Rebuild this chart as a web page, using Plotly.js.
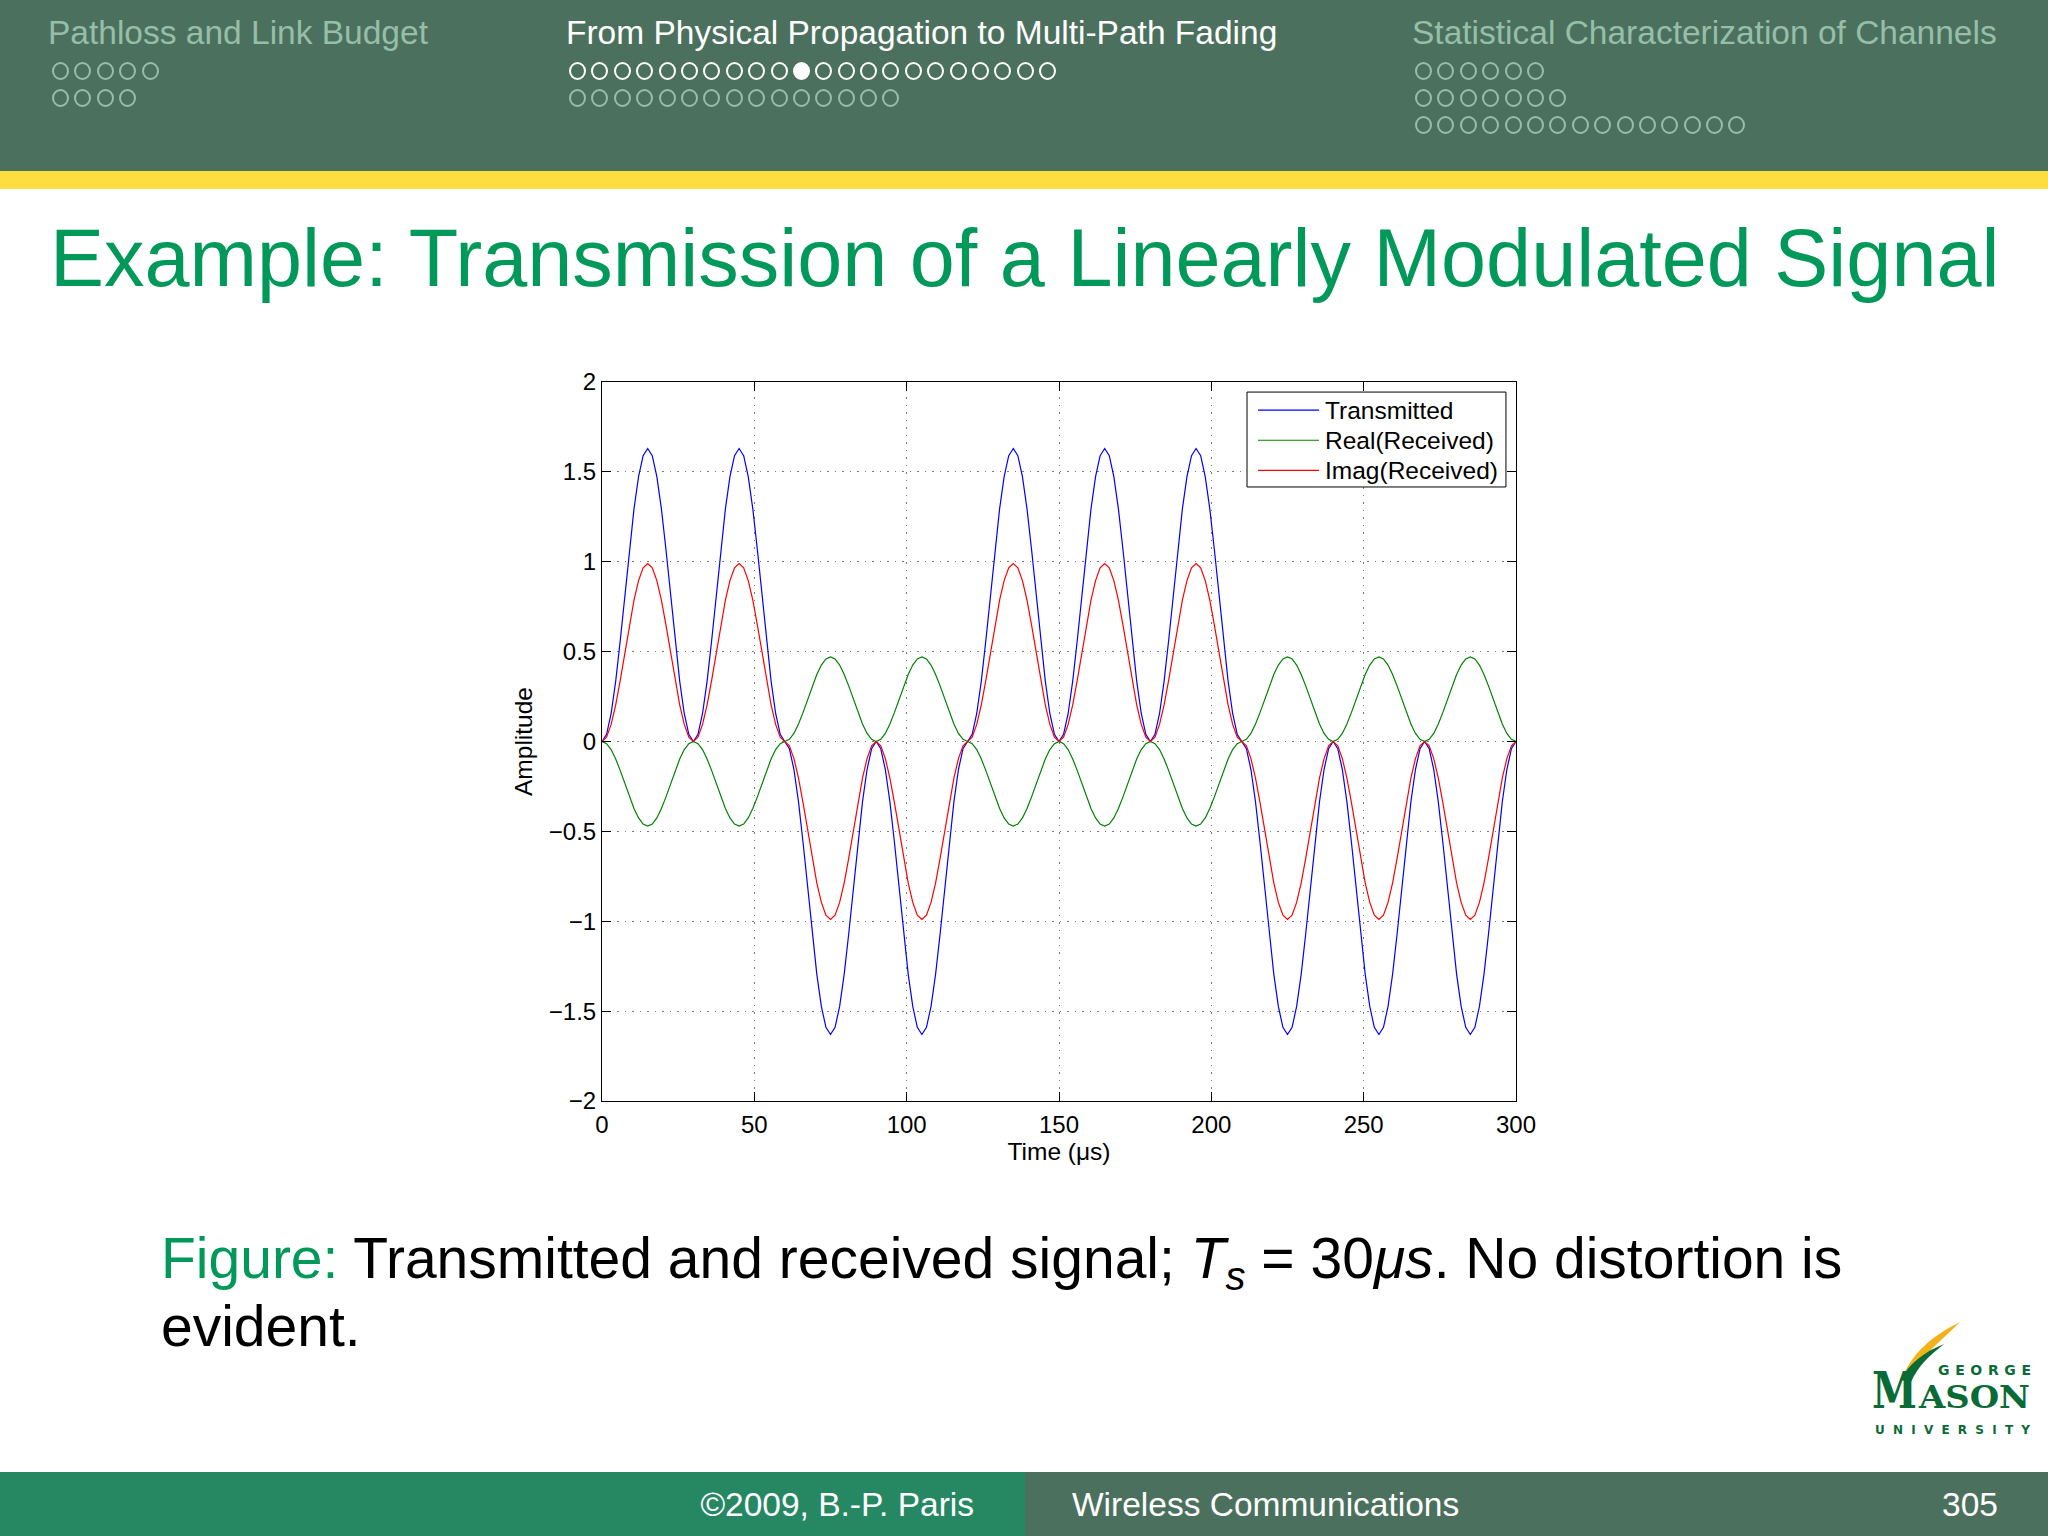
<!DOCTYPE html>
<html>
<head>
<meta charset="utf-8">
<script src="https://cdn.plot.ly/plotly-3.0.1.min.js"></script>
<style>
  html, body { margin: 0; padding: 0; width: 2048px; height: 1536px; overflow: hidden; background: #ffffff; font-family: "Liberation Sans", Arial, sans-serif; }
  .abs { position: absolute; }
  #header { left: 0; top: 0; width: 2048px; height: 171px; background: #4b715e; }
  #stripe { left: 0; top: 171px; width: 2048px; height: 18px; background: #fddd40; }
  .sec { position: absolute; font-size: 33.5px; white-space: nowrap; line-height: 1; }
  .inactive { color: #97bea8; }
  .active { color: #ffffff; }
  .row { position: absolute; height: 18px; white-space: nowrap; }
  .dot { display: inline-block; width: 13px; height: 14px; border: 2px solid; border-radius: 50%; margin-right: 5.4px; vertical-align: top; }
  .row.inactive .dot { border-color: #97bea8; }
  .row.active .dot { border-color: #ffffff; }
  .dot.fill { background: #ffffff; }
  #title { left: 50px; top: 218px; font-size: 81px; color: #00995a; white-space: nowrap; line-height: 1; }
  #caption { left: 161px; top: 1224px; font-size: 57px; color: #000; line-height: 68px; width: 1800px; }
  #caption .lbl { color: #00995a; }
  #caption .sub { font-size: 40px; position: relative; top: 12px; line-height: 0; }
  #footL { left: 0; top: 1472px; width: 1025px; height: 64px; background: #258862; }
  #footR { left: 1025px; top: 1472px; width: 1023px; height: 64px; background: #4b715e; }
  .ftxt { position: absolute; color: #fff; font-size: 33.5px; line-height: 1; white-space: nowrap; top: 1488px; }
  #chart { position: absolute; left: 480px; top: 360px; width: 1100px; height: 820px; }
</style>
</head>
<body>
<div id="header" class="abs"></div>
<div id="stripe" class="abs"></div>

<div class="sec inactive" style="left:48px; top:16px;">Pathloss and Link Budget</div>
<div class="sec active" style="left:566px; top:16px;">From Physical Propagation to Multi-Path Fading</div>
<div class="sec inactive" style="left:1412px; top:16px;">Statistical Characterization of Channels</div>

<div id="rows"></div>

<div id="title" class="abs">Example: Transmission of a Linearly Modulated Signal</div>

<div id="chart"></div>

<div id="caption" class="abs"><span class="lbl">Figure:</span> Transmitted and received signal; <i>T</i><i class="sub">s</i>&nbsp;= 30<i>μs</i>. No distortion is<br>evident.</div>

<svg class="abs" style="left:1868px; top:1318px;" width="170" height="122" viewBox="1868 1318 170 122">
  <path d="M1904,1374 C1914,1352 1932,1336 1960,1322 C1943,1339 1926,1352 1914,1370 Z" fill="#f2b21c"/>
  <path d="M1900,1380 C1910,1363 1924,1352 1944,1344 C1929,1356 1918,1366 1911,1382 Z" fill="#0a6b36"/>
  <text x="1938" y="1375" font-family="DejaVu Sans" font-weight="bold" font-size="14" fill="#0a6b36" textLength="93" lengthAdjust="spacing">GEORGE</text>
  <text x="1872" y="1408" font-family="DejaVu Serif" font-weight="bold" font-size="50" fill="#0a6b36" textLength="45" lengthAdjust="spacingAndGlyphs">M</text>
  <text x="1919" y="1408" font-family="DejaVu Serif" font-weight="bold" font-size="31" fill="#0a6b36" textLength="111" lengthAdjust="spacingAndGlyphs">ASON</text>
  <text x="1875" y="1434" font-family="DejaVu Sans" font-weight="bold" font-size="12" fill="#0a6b36" textLength="155" lengthAdjust="spacing">UNIVERSITY</text>
</svg>

<div id="footL" class="abs"></div>
<div id="footR" class="abs"></div>
<div class="ftxt" style="right:1074px;">©2009, B.-P. Paris</div>
<div class="ftxt" style="left:1072px;">Wireless Communications</div>
<div class="ftxt" style="right:50px;">305</div>

<script>
// ---- navigation dots (header) ----
const navRows = [
  {left: 52,   top: 62,  count: 5,  filled: -1, cls: 'inactive'},
  {left: 52,   top: 89,  count: 4,  filled: -1, cls: 'inactive'},
  {left: 569,  top: 62,  count: 22, filled: 10, cls: 'active'},
  {left: 569,  top: 89,  count: 15, filled: -1, cls: 'inactive'},
  {left: 1415, top: 62,  count: 6,  filled: -1, cls: 'inactive'},
  {left: 1415, top: 89,  count: 7,  filled: -1, cls: 'inactive'},
  {left: 1415, top: 116, count: 15, filled: -1, cls: 'inactive'}
];
const rowsDiv = document.getElementById('rows');
navRows.forEach(r => {
  const d = document.createElement('div');
  d.className = 'row ' + r.cls;
  d.style.left = r.left + 'px';
  d.style.top = r.top + 'px';
  for (let i = 0; i < r.count; i++) {
    const s = document.createElement('span');
    s.className = 'dot' + (i === r.filled ? ' fill' : '');
    d.appendChild(s);
  }
  rowsDiv.appendChild(d);
});

// ---- chart data (sampled every 1.5 µs from 0 to 300 µs) ----
const timeStart = 0;     // µs
const timeStep = 1.5;    // µs

const transmitted = [
  0, 0.040, 0.156, 0.336, 0.563, 0.815, 1.067, 1.294, 1.474, 1.590, 1.630, 1.590, 1.474, 1.294, 1.067, 0.815, 0.563, 0.336, 0.156, 0.040,
  0, 0.040, 0.156, 0.336, 0.563, 0.815, 1.067, 1.294, 1.474, 1.590, 1.630, 1.590, 1.474, 1.294, 1.067, 0.815, 0.563, 0.336, 0.156, 0.040,
  0, -0.040, -0.156, -0.336, -0.563, -0.815, -1.067, -1.294, -1.474, -1.590, -1.630, -1.590, -1.474, -1.294, -1.067, -0.815, -0.563, -0.336, -0.156, -0.040,
  0, -0.040, -0.156, -0.336, -0.563, -0.815, -1.067, -1.294, -1.474, -1.590, -1.630, -1.590, -1.474, -1.294, -1.067, -0.815, -0.563, -0.336, -0.156, -0.040,
  0, 0.040, 0.156, 0.336, 0.563, 0.815, 1.067, 1.294, 1.474, 1.590, 1.630, 1.590, 1.474, 1.294, 1.067, 0.815, 0.563, 0.336, 0.156, 0.040,
  0, 0.040, 0.156, 0.336, 0.563, 0.815, 1.067, 1.294, 1.474, 1.590, 1.630, 1.590, 1.474, 1.294, 1.067, 0.815, 0.563, 0.336, 0.156, 0.040,
  0, 0.040, 0.156, 0.336, 0.563, 0.815, 1.067, 1.294, 1.474, 1.590, 1.630, 1.590, 1.474, 1.294, 1.067, 0.815, 0.563, 0.336, 0.156, 0.040,
  0, -0.040, -0.156, -0.336, -0.563, -0.815, -1.067, -1.294, -1.474, -1.590, -1.630, -1.590, -1.474, -1.294, -1.067, -0.815, -0.563, -0.336, -0.156, -0.040,
  0, -0.040, -0.156, -0.336, -0.563, -0.815, -1.067, -1.294, -1.474, -1.590, -1.630, -1.590, -1.474, -1.294, -1.067, -0.815, -0.563, -0.336, -0.156, -0.040,
  0, -0.040, -0.156, -0.336, -0.563, -0.815, -1.067, -1.294, -1.474, -1.590, -1.630, -1.590, -1.474, -1.294, -1.067, -0.815, -0.563, -0.336, -0.156, -0.040,
  0
];

const realReceived = [
  0, -0.012, -0.045, -0.097, -0.162, -0.235, -0.308, -0.373, -0.425, -0.459, -0.470, -0.459, -0.425, -0.373, -0.308, -0.235, -0.162, -0.097, -0.045, -0.012,
  0, -0.012, -0.045, -0.097, -0.162, -0.235, -0.308, -0.373, -0.425, -0.459, -0.470, -0.459, -0.425, -0.373, -0.308, -0.235, -0.162, -0.097, -0.045, -0.012,
  0, 0.012, 0.045, 0.097, 0.162, 0.235, 0.308, 0.373, 0.425, 0.459, 0.470, 0.459, 0.425, 0.373, 0.308, 0.235, 0.162, 0.097, 0.045, 0.012,
  0, 0.012, 0.045, 0.097, 0.162, 0.235, 0.308, 0.373, 0.425, 0.459, 0.470, 0.459, 0.425, 0.373, 0.308, 0.235, 0.162, 0.097, 0.045, 0.012,
  0, -0.012, -0.045, -0.097, -0.162, -0.235, -0.308, -0.373, -0.425, -0.459, -0.470, -0.459, -0.425, -0.373, -0.308, -0.235, -0.162, -0.097, -0.045, -0.012,
  0, -0.012, -0.045, -0.097, -0.162, -0.235, -0.308, -0.373, -0.425, -0.459, -0.470, -0.459, -0.425, -0.373, -0.308, -0.235, -0.162, -0.097, -0.045, -0.012,
  0, -0.012, -0.045, -0.097, -0.162, -0.235, -0.308, -0.373, -0.425, -0.459, -0.470, -0.459, -0.425, -0.373, -0.308, -0.235, -0.162, -0.097, -0.045, -0.012,
  0, 0.012, 0.045, 0.097, 0.162, 0.235, 0.308, 0.373, 0.425, 0.459, 0.470, 0.459, 0.425, 0.373, 0.308, 0.235, 0.162, 0.097, 0.045, 0.012,
  0, 0.012, 0.045, 0.097, 0.162, 0.235, 0.308, 0.373, 0.425, 0.459, 0.470, 0.459, 0.425, 0.373, 0.308, 0.235, 0.162, 0.097, 0.045, 0.012,
  0, 0.012, 0.045, 0.097, 0.162, 0.235, 0.308, 0.373, 0.425, 0.459, 0.470, 0.459, 0.425, 0.373, 0.308, 0.235, 0.162, 0.097, 0.045, 0.012,
  0
];

const imagReceived = [
  0, 0.024, 0.095, 0.204, 0.342, 0.495, 0.648, 0.786, 0.895, 0.966, 0.990, 0.966, 0.895, 0.786, 0.648, 0.495, 0.342, 0.204, 0.095, 0.024,
  0, 0.024, 0.095, 0.204, 0.342, 0.495, 0.648, 0.786, 0.895, 0.966, 0.990, 0.966, 0.895, 0.786, 0.648, 0.495, 0.342, 0.204, 0.095, 0.024,
  0, -0.024, -0.095, -0.204, -0.342, -0.495, -0.648, -0.786, -0.895, -0.966, -0.990, -0.966, -0.895, -0.786, -0.648, -0.495, -0.342, -0.204, -0.095, -0.024,
  0, -0.024, -0.095, -0.204, -0.342, -0.495, -0.648, -0.786, -0.895, -0.966, -0.990, -0.966, -0.895, -0.786, -0.648, -0.495, -0.342, -0.204, -0.095, -0.024,
  0, 0.024, 0.095, 0.204, 0.342, 0.495, 0.648, 0.786, 0.895, 0.966, 0.990, 0.966, 0.895, 0.786, 0.648, 0.495, 0.342, 0.204, 0.095, 0.024,
  0, 0.024, 0.095, 0.204, 0.342, 0.495, 0.648, 0.786, 0.895, 0.966, 0.990, 0.966, 0.895, 0.786, 0.648, 0.495, 0.342, 0.204, 0.095, 0.024,
  0, 0.024, 0.095, 0.204, 0.342, 0.495, 0.648, 0.786, 0.895, 0.966, 0.990, 0.966, 0.895, 0.786, 0.648, 0.495, 0.342, 0.204, 0.095, 0.024,
  0, -0.024, -0.095, -0.204, -0.342, -0.495, -0.648, -0.786, -0.895, -0.966, -0.990, -0.966, -0.895, -0.786, -0.648, -0.495, -0.342, -0.204, -0.095, -0.024,
  0, -0.024, -0.095, -0.204, -0.342, -0.495, -0.648, -0.786, -0.895, -0.966, -0.990, -0.966, -0.895, -0.786, -0.648, -0.495, -0.342, -0.204, -0.095, -0.024,
  0, -0.024, -0.095, -0.204, -0.342, -0.495, -0.648, -0.786, -0.895, -0.966, -0.990, -0.966, -0.895, -0.786, -0.648, -0.495, -0.342, -0.204, -0.095, -0.024,
  0
];

const seriesNames = ['Transmitted', 'Real(Received)', 'Imag(Received)'];
const seriesColors = ['#0000ff', '#008000', '#ff0000'];
const xTickVals = [0, 50, 100, 150, 200, 250, 300];
const xTickText = ['0', '50', '100', '150', '200', '250', '300'];
const yTickVals = [-2, -1.5, -1, -0.5, 0, 0.5, 1, 1.5, 2];
const yTickText = ['\u22122', '\u22121.5', '\u22121', '\u22120.5', '0', '0.5', '1', '1.5', '2'];

const FONT = 'Liberation Sans, Arial, sans-serif';
const seriesData = [transmitted, realReceived, imagReceived];

const traces = seriesData.map((ys, i) => ({
  x0: timeStart, dx: timeStep, y: ys, name: seriesNames[i],
  type: 'scatter', mode: 'lines', line: {color: seriesColors[i], width: 1.2}
}));

// MATLAB-style legend box (drawn in paper coordinates)
const legBox = {x0: 0.7057, x1: 0.989, y0: 0.854, y1: 0.986};
const legRowsY = [0.961, 0.919, 0.877];
const legLineX = [0.7177, 0.7845];
const legTextX = 0.790;

const shapes = [
  {type: 'rect', xref: 'paper', yref: 'paper', x0: legBox.x0, x1: legBox.x1, y0: legBox.y0, y1: legBox.y1,
   line: {color: '#000', width: 1}, fillcolor: '#ffffff', layer: 'above'}
];
const annotations = [];
seriesNames.forEach((nm, i) => {
  shapes.push({type: 'line', xref: 'paper', yref: 'paper', x0: legLineX[0], x1: legLineX[1], y0: legRowsY[i], y1: legRowsY[i],
               line: {color: seriesColors[i], width: 1.2}, layer: 'above'});
  annotations.push({xref: 'paper', yref: 'paper', x: legTextX, y: legRowsY[i], xanchor: 'left', yanchor: 'middle',
                    text: nm, showarrow: false, font: {family: FONT, size: 24.5, color: '#000'}, borderpad: 0});
});

const axisCommon = {
  showline: true, linecolor: '#000', linewidth: 1, mirror: 'ticks',
  ticks: 'inside', ticklen: 9, tickcolor: '#000', tickwidth: 1,
  showgrid: true, gridcolor: '#7a7a7a', griddash: '1.5px,6px', gridwidth: 1,
  zeroline: false, tickfont: {family: FONT, size: 24, color: '#000'}
};

const layout = {
  width: 1100, height: 820,
  margin: {l: 122, r: 64, t: 22, b: 79},
  paper_bgcolor: 'rgba(0,0,0,0)', plot_bgcolor: '#ffffff',
  font: {family: FONT, size: 24, color: '#000'},
  showlegend: false,
  shapes: shapes,
  annotations: annotations,
  xaxis: Object.assign({}, axisCommon, {range: [0, 300], tickmode: 'array', tickvals: xTickVals, ticktext: xTickText, ticklabelstandoff: 2,
    title: {text: 'Time (μs)', font: {family: FONT, size: 24.5, color: '#000'}, standoff: 6}}),
  yaxis: Object.assign({}, axisCommon, {range: [-2, 2], tickmode: 'array', tickvals: yTickVals, ticktext: yTickText,
    title: {text: 'Amplitude', font: {family: FONT, size: 24.5, color: '#000'}, standoff: 9}})
};

Plotly.newPlot('chart', traces, layout, {staticPlot: true, displayModeBar: false});
</script>
</body>
</html>
